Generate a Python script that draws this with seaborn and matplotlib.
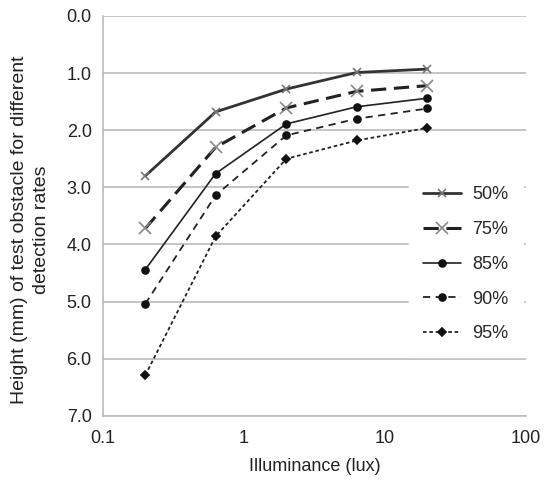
import numpy as np
import pandas as pd
import seaborn as sns
import matplotlib.pyplot as plt

# Data
illuminance = [0.2, 0.63, 2.0, 6.3, 20.0]
h50 = [2.80, 1.68, 1.28, 0.99, 0.93]
h75 = [3.72, 2.30, 1.61, 1.32, 1.22]
h85 = [4.44, 2.76, 1.89, 1.59, 1.44]
h90 = [5.04, 3.14, 2.09, 1.80, 1.62]
h95 = [6.29, 3.86, 2.50, 2.18, 1.96]
rates = ["50%", "75%", "85%", "90%", "95%"]
y_ticks = [0, 1, 2, 3, 4, 5, 6, 7]
x_ticks = [0.1, 1, 10, 100]
x_tick_labels = ["0.1", "1", "10", "100"]

sns.set_theme(style="white")
plt.rcParams['font.family'] = ['Liberation Sans', 'DejaVu Sans']

FS = 13

# Series styles: (color, linestyle, linewidth, marker, markersize, marker color)
styles = {
    "50%": ("#333333", "-", 2.0, "x", 6, "#777777"),
    "75%": ("#222222", (0, (5, 2.5)), 2.2, "x", 9, "#888888"),
    "85%": ("#222222", "-", 1.2, "o", 5, "#111111"),
    "90%": ("#222222", (0, (4, 3)), 1.3, "o", 5, "#111111"),
    "95%": ("#222222", (0, (2, 1.5)), 1.3, "D", 4.5, "#111111"),
}

fig = plt.figure(figsize=(5.44, 4.83), dpi=100)
ax = fig.add_axes([0.189, 0.139, 0.778, 0.828])

for rate, vals in zip(rates, [h50, h75, h85, h90, h95]):
    c, ls, lw, mk, ms, mc = styles[rate]
    sns.lineplot(x=illuminance, y=vals, ax=ax, color=c, linestyle=ls, linewidth=lw,
                 marker=mk, markersize=ms, markeredgecolor=mc, markerfacecolor=mc,
                 markeredgewidth=1.2, label=rate)

ax.set_xscale("log")
ax.set_xlim(0.1, 100)
ax.set_ylim(7, 0)
ax.set_yticks(y_ticks)
ax.set_yticklabels([f"{v:.1f}" for v in y_ticks])
ax.set_xticks(x_ticks)
ax.set_xticklabels(x_tick_labels)
ax.minorticks_off()

ax.yaxis.grid(True, color="#bbbbbb", linewidth=1.2)
ax.set_axisbelow(True)
for side in ["top", "right"]:
    ax.spines[side].set_visible(False)
for side in ["left", "bottom"]:
    ax.spines[side].set_color("#bbbbbb")
    ax.spines[side].set_linewidth(1.2)
ax.tick_params(axis="both", which="major", direction="out", length=5, width=1,
               color="#bbbbbb", labelsize=FS, labelcolor="#222222", pad=3)
ax.tick_params(axis="x", pad=5)

ax.set_xlabel("Illuminance (lux)", fontsize=FS, color="#222222", labelpad=8)
ax.set_ylabel("Height (mm) of test obstacle for different\ndetection rates",
              fontsize=14, color="#222222", linespacing=1.4)
ax.yaxis.set_label_coords(-0.125, 0.465)

leg = ax.legend(loc="upper left", bbox_to_anchor=(409 / 544, 1 - 172 / 483),
                bbox_transform=fig.transFigure, borderaxespad=0,
                frameon=True, fontsize=FS, labelspacing=0.98, handlelength=2.1,
                handletextpad=0.6, borderpad=0.8, fancybox=False)
leg.get_frame().set_facecolor("white")
leg.get_frame().set_edgecolor("white")
leg.get_frame().set_alpha(1.0)

fig.savefig("out.png", dpi=100)
